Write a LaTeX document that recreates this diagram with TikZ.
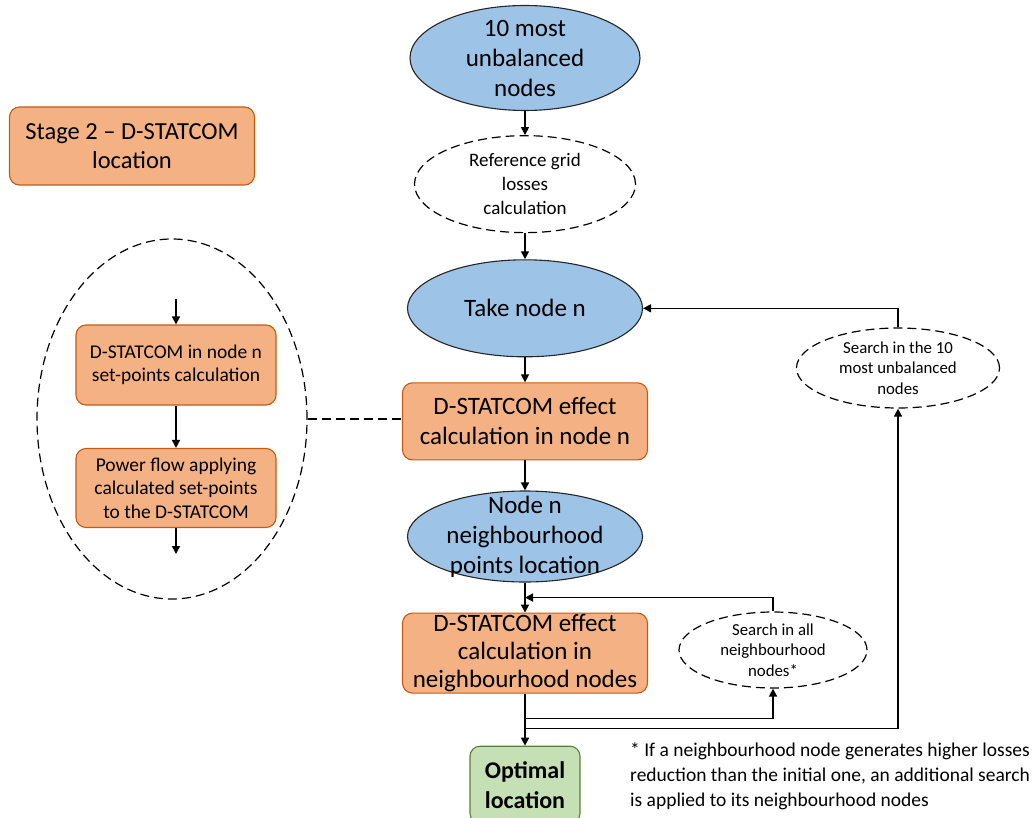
\documentclass[tikz,border=0pt]{standalone}
\usepackage{fontspec}
\setmainfont{Carlito}
\usepackage{xcolor}
\usetikzlibrary{arrows.meta,positioning,shapes.geometric}
\definecolor{nodeblue}{RGB}{157,195,230}
\definecolor{calcorange}{RGB}{244,177,131}
\definecolor{calcedge}{RGB}{197,90,17}
\definecolor{resgreen}{RGB}{197,224,180}
\definecolor{resedge}{RGB}{84,130,53}
\tikzset{
  flowell/.style={ellipse, draw=black!85, line width=1.1pt, fill=nodeblue,
    inner xsep=0pt, inner ysep=-12pt, align=center,
    font=\fontsize{25}{30}\selectfont},
  dashell/.style={ellipse, draw, line width=1.2pt, dash pattern=on 9pt off 5pt,
    inner xsep=0pt, inner ysep=-12pt, align=center},
  calcbox/.style={draw=calcedge, line width=1.1pt, fill=calcorange,
    rounded corners=10pt, align=center, inner sep=0pt},
  resbox/.style={draw=resedge, line width=1.1pt, fill=resgreen,
    rounded corners=10pt, align=center, inner sep=0pt,
    font=\fontsize{24}{30}\selectfont\bfseries},
  arrw/.style={-{Triangle[length=8pt,width=8pt]}, line width=1.5pt},
  dlink/.style={line width=1.5pt, dash pattern=on 9pt off 5pt},
}

\begin{document}
\begin{tikzpicture}[x=1pt, y=-1pt]
  \useasboundingbox (0,0) rectangle (1032,818);

  % main column
  \node[flowell, minimum width=230pt, minimum height=105pt] (top) at (525,58)
    {10 most\\ unbalanced\\ nodes};
  \node[dashell, below=24pt of top, minimum width=221pt, minimum height=97pt,
    font=\fontsize{19}{24}\selectfont] (refgrid)
    {Reference grid\\ losses\\ calculation};
  \node[flowell, below=26pt of refgrid, minimum width=235pt, minimum height=97pt] (take)
    {Take node n};
  \node[calcbox, below=25pt of take, minimum width=245pt, minimum height=77pt,
    font=\fontsize{25}{30}\selectfont] (effect)
    {D-STATCOM effect\\ calculation in node n};
  \node[flowell, below=30pt of effect, minimum width=235pt, minimum height=91pt] (neigh)
    {Node n\\ neighbourhood\\ points location};
  \node[calcbox, below=30pt of neigh, minimum width=245pt, minimum height=80pt,
    font=\fontsize{25}{28}\selectfont] (effnb)
    {D-STATCOM effect\\ calculation in\\ neighbourhood nodes};
  \node[resbox, below=52pt of effnb, minimum width=110pt, minimum height=77pt] (optimal)
    {Optimal\\ location};

  % search loops
  \node[dashell, minimum width=188pt, minimum height=76pt,
    font=\fontsize{16.8}{20.5}\selectfont] (searchnb) at (773,650)
    {Search in all\\ neighbourhood\\ nodes*};
  \node[dashell, minimum width=203pt, minimum height=80pt,
    font=\fontsize{16.8}{20.5}\selectfont] (search10) at (898,368)
    {Search in the 10\\ most unbalanced\\ nodes};

  % stage title
  \node[calcbox, minimum width=245pt, minimum height=78pt,
    font=\fontsize{24.5}{29}\selectfont] (stage) at (132,146)
    {Stage 2 -- D-STATCOM\\ location};

  % detail of the effect calculation
  \node[dashell, minimum width=270pt, minimum height=360pt] (detail) at (172,419) {};
  \node[calcbox, minimum width=200pt, minimum height=80pt,
    font=\fontsize{19.5}{23}\selectfont] (setpts) at (176,365)
    {D-STATCOM in node n\\ set-points calculation};
  \node[calcbox, minimum width=200pt, minimum height=79pt,
    font=\fontsize{19.5}{23.5}\selectfont] (pflow) at (176,488)
    {Power flow applying\\ calculated set-points\\ to the D-STATCOM};
  \coordinate (din) at (176,299);
  \coordinate (dout) at (176,554);

  % footnote
  \node[anchor=north west, align=left, inner sep=0pt,
    font=\fontsize{19.5}{25}\selectfont] (note) at (630,742)
    {* If a neighbourhood node generates higher losses\\
     reduction than the initial one, an additional search\\
     is applied to its neighbourhood nodes};

  \coordinate (entry) at ([yshift=15pt]effnb.north);
  \coordinate (tap1) at ([yshift=-25pt]effnb.south);
  \coordinate (tap2) at ([yshift=-35pt]effnb.south);

  \draw[arrw] (top) -- (refgrid);
  \draw[arrw] (refgrid) -- (take);
  \draw[arrw] (take) -- (effect);
  \draw[arrw] (effect) -- (neigh);
  \draw[arrw] (neigh) -- (effnb);
  \draw[arrw] (effnb) -- (optimal);
  \draw[arrw] (tap1) -| (searchnb.south);
  \draw[arrw] (searchnb.north) |- (entry);
  \draw[arrw] (tap2) -| (search10.south);
  \draw[arrw] (search10.north) |- (take.east);
  \draw[arrw] (din) -- (setpts);
  \draw[arrw] (setpts) -- (pflow);
  \draw[arrw] (pflow) -- (dout);
  \draw[dlink] (detail.east) -- (detail.east -| effect.west);
\end{tikzpicture}
\end{document}
